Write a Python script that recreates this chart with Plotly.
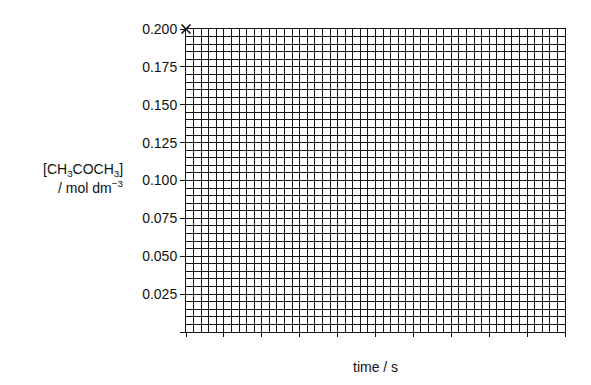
import plotly.graph_objects as go

# Data
y_tick_vals = [0.0, 0.025, 0.050, 0.075, 0.100, 0.125, 0.150, 0.175, 0.200]
y_tick_text = ["", "0.025", "0.050", "0.075", "0.100", "0.125", "0.150", "0.175", "0.200"]
x_tick_vals = [0, 1, 2, 3, 4, 5, 6, 7, 8, 9, 10]
point_time = [0]
point_conc = [0.200]

GRID = "#141414"
FONT = "Liberation Sans, Arial, sans-serif"

fig = go.Figure()
fig.add_trace(go.Scatter(
    x=point_time, y=point_conc, mode="markers",
    marker=dict(symbol="x-thin", size=9, line=dict(color="#111", width=1.6)),
    cliponaxis=False, showlegend=False, hoverinfo="skip",
))

fig.update_layout(
    width=591, height=385,
    margin=dict(l=186, r=26, t=29, b=53),
    paper_bgcolor="white", plot_bgcolor="white",
    font=dict(family=FONT, size=14, color="#111"),
    xaxis=dict(
        range=[0, 10], tickvals=x_tick_vals, ticktext=[""] * len(x_tick_vals),
        showgrid=True, gridcolor=GRID, gridwidth=1,
        minor=dict(dtick=0.2, showgrid=True, gridcolor=GRID, gridwidth=1, ticks=""),
        ticks="outside", ticklen=4, tickcolor="#111", tickwidth=1,
        showline=True, linecolor="#111", linewidth=1, mirror=True,
        zeroline=False, fixedrange=True,
    ),
    yaxis=dict(
        range=[0, 0.2], tickvals=y_tick_vals, ticktext=y_tick_text,
        showgrid=True, gridcolor=GRID, gridwidth=1,
        minor=dict(dtick=0.005, showgrid=True, gridcolor=GRID, gridwidth=1, ticks=""),
        ticks="outside", ticklen=5, tickcolor="#111", tickwidth=1,
        showline=True, linecolor="#111", linewidth=1, mirror=True,
        zeroline=False, fixedrange=True,
        tickfont=dict(size=14),
    ),
    annotations=[
        dict(text="[CH<sub>3</sub>COCH<sub>3</sub>]",
             xref="paper", yref="paper", x=-0.161, y=0.535, xanchor="right",
             yanchor="middle", align="right", showarrow=False,
             font=dict(size=14, family=FONT, color="#111")),
        dict(text="/ mol dm<sup>−3</sup>",
             xref="paper", yref="paper", x=-0.161, y=0.478, xanchor="right",
             yanchor="middle", align="right", showarrow=False,
             font=dict(size=14, family=FONT, color="#111")),
        dict(text="time / s", xref="paper", yref="paper", x=0.5, y=0,
             xanchor="center", yanchor="top", yshift=-25, showarrow=False,
             font=dict(size=14, family=FONT, color="#111")),
    ],
)

fig.write_html("out.html")
